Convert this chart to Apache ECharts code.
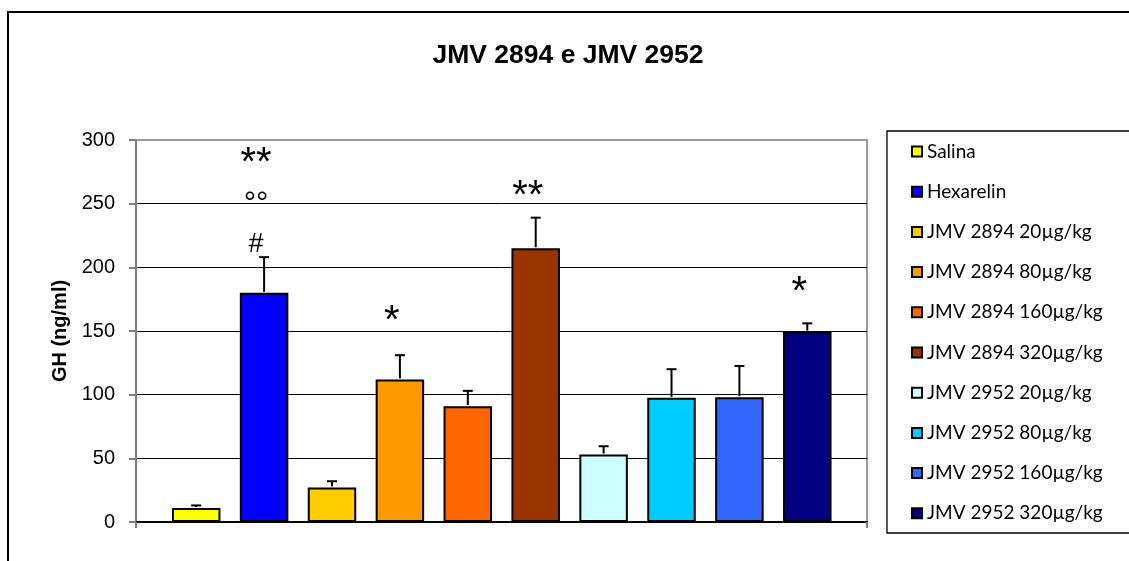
<!DOCTYPE html>
<html>
<head>
<meta charset="utf-8">
<script src="https://cdn.jsdelivr.net/npm/echarts@6/dist/echarts.min.js"></script>
<style>html,body{margin:0;padding:0;background:#fff}#c{width:1129px;height:561px}</style>
</head>
<body>
<div id="c"></div>
<script>
// ---- data ----
const groups = ['Salina','Hexarelin','JMV 2894 20µg/kg','JMV 2894 80µg/kg','JMV 2894 160µg/kg','JMV 2894 320µg/kg','JMV 2952 20µg/kg','JMV 2952 80µg/kg','JMV 2952 160µg/kg','JMV 2952 320µg/kg'];
const means = [11, 180, 27, 112, 91, 215, 53, 97.5, 98, 149.5];
const errors = [2, 28, 5, 19, 12, 24, 6.5, 22.5, 24.5, 6.5];
const colors = ['#FFFF00','#0000FF','#FFCC00','#FF9900','#FF6600','#993300','#CCFFFF','#00CCFF','#3366FF','#000080'];
const yTicks = [0, 50, 100, 150, 200, 250, 300];
const annotGroup = [1, 1, 1, 3, 5, 9];
const annotText = ['**', '°°', '#', '*', '**', '*'];
const annotY = [281, 249, 218, 157, 255, 180];

// ---- chart ----
const chart = echarts.init(document.getElementById('c'), null, {renderer:'canvas'});
const barSeries = groups.map((g, i) => ({
  name: g,
  type: 'bar',
  xAxisIndex: 1, yAxisIndex: 1,
  barWidth: 48.5,
  barGap: '-100%',
  data: groups.map((_, j) => j === i ? means[i] : '-'),
  itemStyle: {color: colors[i], borderColor: '#000', borderWidth: 2},
  z: 2
}));

const errSeries = {
  type: 'custom', name: 'err', xAxisIndex: 1, yAxisIndex: 1, z: 4,
  data: means.map((m, i) => [i, m, errors[i]]),
  renderItem: (params, api) => {
    const x = api.value(0), v = api.value(1), e = api.value(2);
    const b = api.coord([x, v]);
    const t = api.coord([x, v + e]);
    return {type: 'group', children: [
      {type: 'line', shape: {x1: b[0], y1: b[1] - 1, x2: t[0], y2: t[1]}, style: {stroke: '#000', lineWidth: 2}},
      {type: 'line', shape: {x1: t[0] - 5, y1: t[1], x2: t[0] + 5, y2: t[1]}, style: {stroke: '#000', lineWidth: 2}}
    ]};
  }
};

const annotSeries = {
  type: 'custom', name: 'annot', xAxisIndex: 1, yAxisIndex: 1, z: 5,
  data: annotGroup.map((g, i) => [g, annotY[i], annotText[i]]),
  renderItem: (params, api) => {
    const p = api.coord([api.value(0), api.value(1)]);
    const txt = annotText[params.dataIndex];
    const isStar = txt.indexOf('*') >= 0;
    const size = isStar ? '40px' : (txt === '#' ? '27px' : '31px');
    return {type: 'text', x: p[0] - 8, y: p[1], style: {
      text: txt, align: 'center', verticalAlign: 'middle',
      font: size + ' "Liberation Sans", Arial, sans-serif', fill: '#000'
    }};
  }
};

chart.setOption({
  animation: false,
  backgroundColor: '#fff',
  title: {
    text: 'JMV 2894 e JMV 2952', left: 563, top: 37, textAlign: 'center',
    textStyle: {fontFamily: '"Liberation Sans", Arial, sans-serif', fontWeight: 'bold', fontSize: 26.5, color: '#000'}
  },
  legend: {
    data: groups, orient: 'vertical', left: 911, top: 141.5, padding: 0,
    itemWidth: 10, itemHeight: 10, itemGap: 20.2, icon: 'rect',
    textStyle: {fontFamily: 'Lato, "Open Sans", sans-serif', fontSize: 19, lineHeight: 20, color: '#000'}
  },
  graphic: [
    {type: 'rect', shape: {x: 8, y: 12, width: 1200, height: 600}, style: {fill: 'none', stroke: '#000', lineWidth: 2}, z: 0},
    {type: 'rect', shape: {x: 887, y: 131, width: 300, height: 402}, style: {fill: 'none', stroke: '#000', lineWidth: 1.3}, z: 0}
  ],
  grid: [
    {left: 136, right: 262, top: 140, bottom: 39, show: true, borderColor: '#9a9a9a', borderWidth: 2, backgroundColor: 'transparent'},
    {left: 162.25, right: 287.75, top: 140, bottom: 39}
  ],
  xAxis: [
    {gridIndex: 0, type: 'category', data: [''], boundaryGap: true,
     axisLine: {lineStyle: {color: '#000', width: 2}},
     axisTick: {show: true, length: 6, lineStyle: {color: '#808080', width: 2}},
     axisLabel: {show: false}},
    {gridIndex: 1, type: 'category', data: groups, show: false}
  ],
  yAxis: [
    {gridIndex: 0, type: 'value', min: yTicks[0], max: yTicks[yTicks.length - 1], interval: 50,
     name: 'GH (ng/ml)', nameLocation: 'middle', nameRotate: 90, nameGap: 64,
     nameTextStyle: {fontFamily: '"Liberation Sans", Arial, sans-serif', fontWeight: 'bold', fontSize: 20, color: '#000'},
     axisLine: {show: true, lineStyle: {color: '#808080', width: 2}},
     axisTick: {show: true, length: 7, lineStyle: {color: '#808080', width: 2}},
     axisLabel: {margin: 21, fontFamily: '"Liberation Sans", Arial, sans-serif', fontSize: 20, color: '#000'},
     splitLine: {show: true, lineStyle: {color: ['#000','#000','#000','#000','#000','#000','#9a9a9a'], width: 1}}},
    {gridIndex: 1, type: 'value', min: yTicks[0], max: yTicks[yTicks.length - 1], show: false, splitLine: {show: false}}
  ],
  series: [...barSeries, errSeries, annotSeries]
});
</script>
</body>
</html>
